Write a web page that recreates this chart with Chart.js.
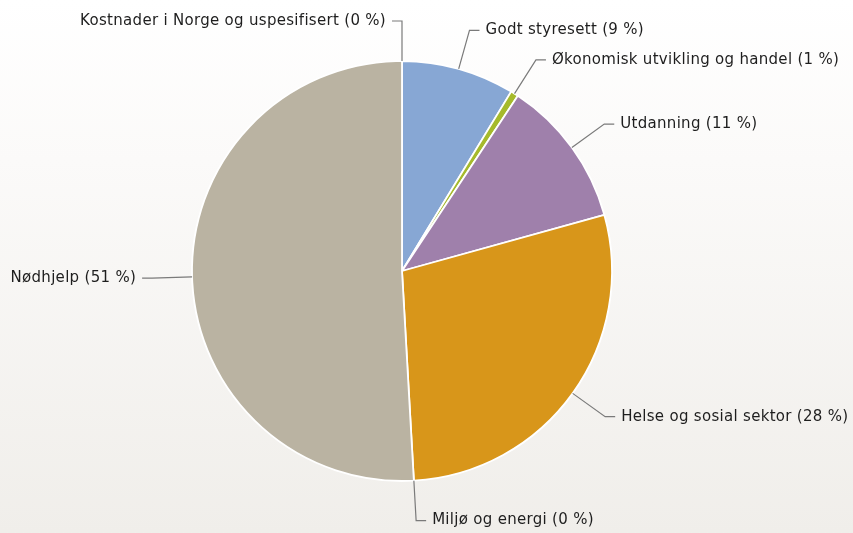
<!DOCTYPE html>
<html>
<head>
<meta charset="utf-8">
<script src="https://cdn.jsdelivr.net/npm/chart.js@4.4.1/dist/chart.umd.min.js"></script>
<style>
    html, body { margin: 0; padding: 0; }
    body {
        width: 853px;
        height: 533px;
        overflow: hidden;
        background: linear-gradient(to bottom, #ffffff 0%, #fbfaf9 30%, #f0eeea 100%);
    }
    canvas { display: block; }
</style>
</head>
<body>
<canvas id="pie-chart" width="853" height="533"></canvas>
<script>
// Slice order, clockwise from 12 o'clock
const categories = [
    'Kostnader i Norge og uspesifisert',
    'Godt styresett',
    'Økonomisk utvikling og handel',
    'Utdanning',
    'Helse og sosial sektor',
    'Miljø og energi',
    'Nødhjelp'
];
const shares = [0, 8.7, 0.6, 11.4, 28.4, 0, 50.9];
const sliceColors = ['#c4c4c4', '#87a7d4', '#a6ba2c', '#9f80ab', '#d8961a', '#7fb4a8', '#bab3a2'];

const total = shares.reduce((a, b) => a + b, 0);
const labelTexts = categories.map((c, i) => `${c} (${Math.round(shares[i] / total * 100)} %)`);

// Highcharts-like labels outside the pie with bent connector lines
const outsideLabels = {
    id: 'outsideLabels',
    afterDatasetsDraw(chart) {
        const ctx = chart.ctx;
        const meta = chart.getDatasetMeta(0);
        ctx.save();
        ctx.font = '15px "DejaVu Sans"';
        ctx.letterSpacing = '0.3px';
        ctx.textBaseline = 'middle';
        ctx.strokeStyle = '#7a7a7a';
        ctx.lineWidth = 1.2;
        meta.data.forEach((arc, i) => {
            const { x, y, startAngle, endAngle, outerRadius } =
                arc.getProps(['x', 'y', 'startAngle', 'endAngle', 'outerRadius'], true);
            const mid = (startAngle + endAngle) / 2;
            const cos = Math.cos(mid);
            const sin = Math.sin(mid);
            const right = cos > 1e-6;
            const dir = right ? 1 : -1;
            const ex = x + outerRadius * cos, ey = y + outerRadius * sin;
            const cx = x + (outerRadius + 40) * cos, cy = y + (outerRadius + 40) * sin;

            ctx.beginPath();
            ctx.moveTo(ex, ey);
            ctx.lineTo(cx, cy);
            ctx.lineTo(cx + dir * 10, cy);
            ctx.stroke();

            ctx.fillStyle = '#1e1e1e';
            ctx.textAlign = right ? 'left' : 'right';
            ctx.fillText(labelTexts[i], cx + dir * 16, cy);
        });
        ctx.restore();
    }
};

new Chart(document.getElementById('pie-chart'), {
    type: 'pie',
    data: {
        labels: categories,
        datasets: [{
            data: shares,
            backgroundColor: sliceColors,
            borderColor: '#ffffff',
            borderWidth: 1.8
        }]
    },
    options: {
        responsive: false,
        animation: false,
        radius: 210,
        layout: { padding: { left: 150, right: 199, top: 61, bottom: 52 } },
        plugins: {
            legend: { display: false },
            tooltip: { enabled: false }
        }
    },
    plugins: [outsideLabels]
});
</script>
</body>
</html>
